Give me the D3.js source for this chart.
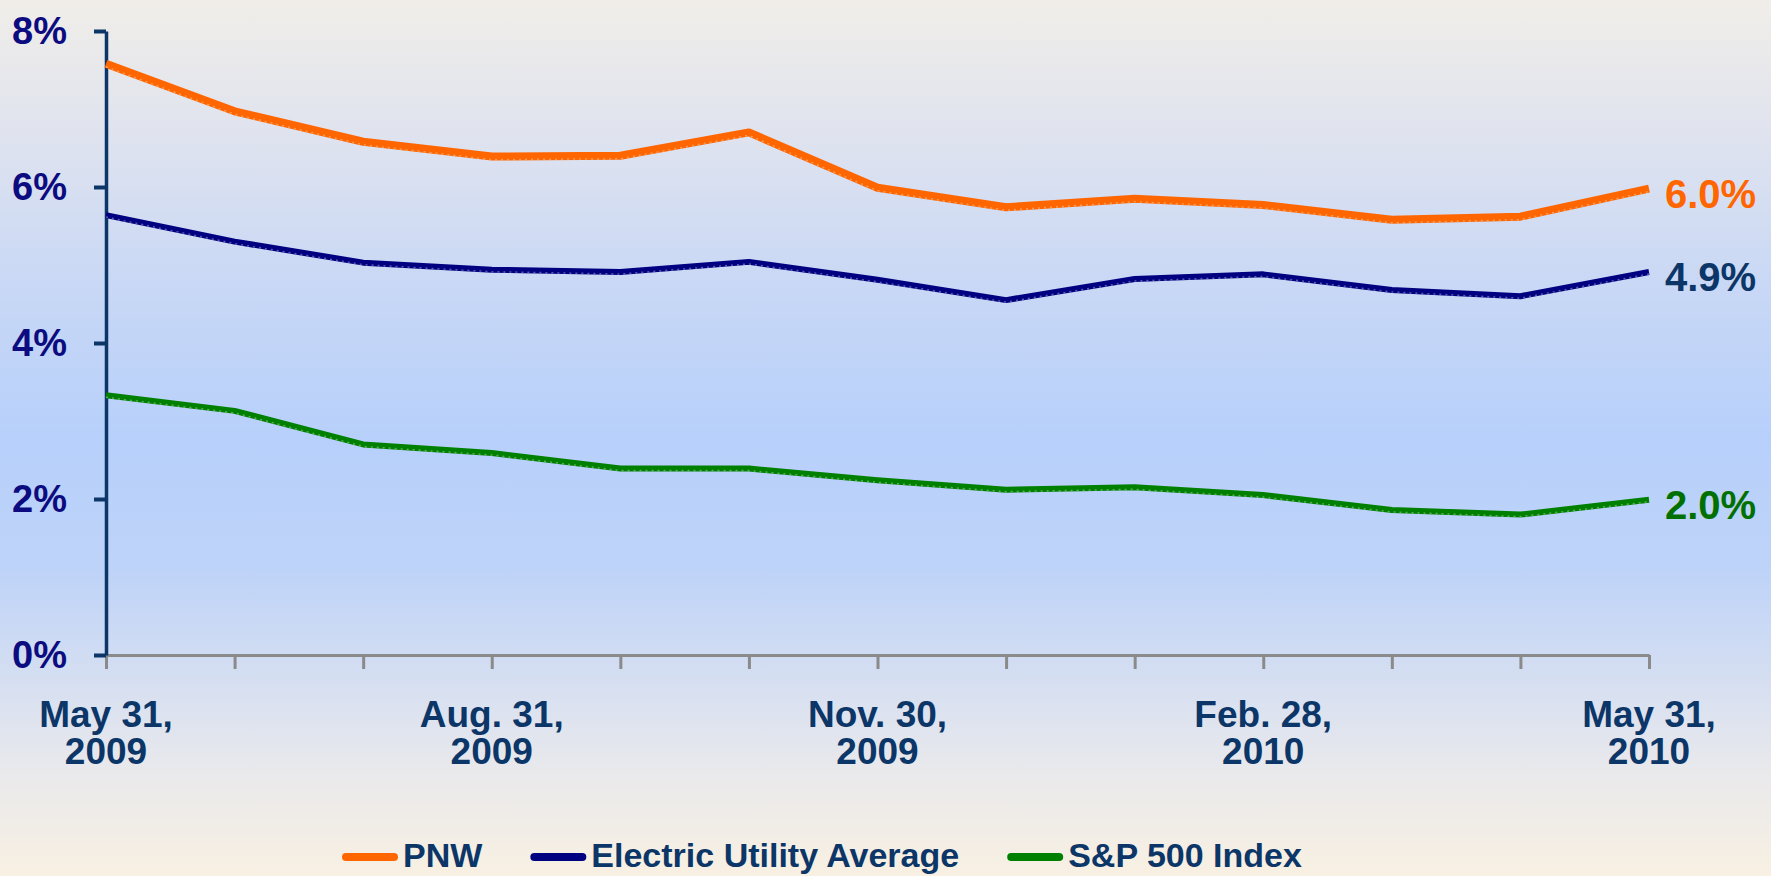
<!DOCTYPE html>
<html>
<head>
<meta charset="utf-8">
<script src="https://cdnjs.cloudflare.com/ajax/libs/d3/7.8.5/d3.min.js"></script>
<style>
    html, body { margin: 0; padding: 0; }
    body { width: 1771px; height: 876px; overflow: hidden; }
    svg text { font-family: "Liberation Sans", Arial, sans-serif; font-weight: bold; }
</style>
</head>
<body>
<div id="chart"></div>
<script>
// month-end dates, May 2009 .. May 2010
const months = ["2009-05", "2009-06", "2009-07", "2009-08", "2009-09", "2009-10", "2009-11",
                "2009-12", "2010-01", "2010-02", "2010-03", "2010-04", "2010-05"];

// dividend yield (%)
const pnw  = [7.58, 6.97, 6.58, 6.39, 6.40, 6.70, 5.99, 5.74, 5.85, 5.77, 5.58, 5.62, 5.98];
const elec = [5.64, 5.30, 5.03, 4.94, 4.91, 5.04, 4.81, 4.55, 4.82, 4.88, 4.68, 4.60, 4.91];
const sp500 = [3.33, 3.13, 2.70, 2.59, 2.39, 2.39, 2.24, 2.12, 2.15, 2.05, 1.86, 1.80, 1.99];

const seriesNames = ["PNW", "Electric Utility Average", "S&P 500 Index"];

const yTicks = [0, 2, 4, 6, 8];
const labeledMonths = ["2009-05", "2009-08", "2009-11", "2010-02", "2010-05"];
const tickLabels = [["May 31,", "2009"], ["Aug. 31,", "2009"], ["Nov. 30,", "2009"],
                    ["Feb. 28,", "2010"], ["May 31,", "2010"]];

const width = 1771, height = 876;

const svg = d3.select("#chart")
    .append("svg")
    .attr("width", width)
    .attr("height", height);

// background gradient
const grad = svg.append("defs").append("linearGradient")
    .attr("id", "bg")
    .attr("x1", 0).attr("y1", 0).attr("x2", 0).attr("y2", 1);
[[0, "#f1eee9"], [0.14, "#e1e4ee"], [0.32, "#c9d8f5"], [0.5, "#b7d0fb"],
 [0.65, "#bed3f8"], [0.78, "#d6dff1"], [0.88, "#e9e9ec"], [1, "#f8f0e2"]]
    .forEach(s => grad.append("stop").attr("offset", s[0]).attr("stop-color", s[1]));

svg.append("rect")
    .attr("width", width)
    .attr("height", height)
    .attr("fill", "url(#bg)");

const xScale = d3.scalePoint()
    .domain(months)
    .range([106, 1649]);

const yScale = d3.scaleLinear()
    .domain([0, 8])
    .range([655, 31]);

// X axis (gray)
const xAxis = svg.append("g")
    .attr("transform", `translate(0,${yScale(0)})`)
    .call(d3.axisBottom(xScale).tickSize(14).tickSizeOuter(0).tickFormat(""));
xAxis.select(".domain").attr("stroke", "#8a8a8a").attr("stroke-width", 3);
xAxis.selectAll(".tick line").attr("stroke", "#8a8a8a").attr("stroke-width", 3);

// two-line x labels
labeledMonths.forEach((m, i) => {
    const t = svg.append("text")
        .attr("x", xScale(m))
        .attr("y", 727)
        .attr("text-anchor", "middle")
        .attr("fill", "#0b3667")
        .style("font-size", "37px");
    t.append("tspan").attr("x", xScale(m)).text(tickLabels[i][0]);
    t.append("tspan").attr("x", xScale(m)).attr("dy", 37).text(tickLabels[i][1]);
});

// Y axis (navy)
const yAxis = svg.append("g")
    .attr("transform", `translate(${xScale(months[0])},0)`)
    .call(d3.axisLeft(yScale).tickValues(yTicks).tickSize(12).tickSizeOuter(0)
        .tickPadding(27).tickFormat(d => d + "%"));
yAxis.select(".domain").attr("stroke", "#0b3667").attr("stroke-width", 3.5);
yAxis.selectAll(".tick line").attr("stroke", "#0b3667").attr("stroke-width", 4);
yAxis.selectAll(".tick text")
    .attr("fill", "#0c0c80")
    .style("font-size", "38px")
    .style("font-family", "'Liberation Sans', Arial, sans-serif")
    .style("font-weight", "bold");

// Lines
const series = [
    { name: seriesNames[0], values: pnw, color: "#ff6600", width: 8, label: "#ff6600" },
    { name: seriesNames[1], values: elec, color: "#000080", width: 6, label: "#0b3667" },
    { name: seriesNames[2], values: sp500, color: "#008000", width: 6, label: "#007000" }
];

const line = d3.line()
    .x((d, i) => xScale(months[i]))
    .y(d => yScale(d));

series.forEach(s => {
    svg.append("path")
        .datum(s.values)
        .attr("fill", "none")
        .attr("stroke", s.color)
        .attr("stroke-width", s.width)
        .attr("stroke-linejoin", "round")
        .attr("d", line);

    // light dotted edge seen in the original rendering
    svg.append("path")
        .datum(s.values)
        .attr("fill", "none")
        .attr("stroke", "#ffffff")
        .attr("stroke-opacity", 0.35)
        .attr("stroke-width", 1.5)
        .attr("stroke-dasharray", "2,4")
        .attr("transform", `translate(0,${s.width / 2 - 1})`)
        .attr("d", line);

    // end value label
    const last = s.values[s.values.length - 1];
    svg.append("text")
        .attr("x", xScale(months[months.length - 1]) + 16)
        .attr("y", yScale(last) + 5)
        .attr("dominant-baseline", "central")
        .attr("fill", s.label)
        .style("font-size", "40px")
        .text(d3.format(".1f")(last) + "%");
});

// Legend
const legend = svg.append("g").attr("transform", "translate(342,857)");
let lx = 0;
series.forEach(s => {
    legend.append("line")
        .attr("x1", lx + 4).attr("x2", lx + 52)
        .attr("y1", 0).attr("y2", 0)
        .attr("stroke", s.color)
        .attr("stroke-width", 8)
        .attr("stroke-linecap", "round");
    const t = legend.append("text")
        .attr("x", lx + 61)
        .attr("y", 10)
        .attr("fill", "#0b3667")
        .style("font-size", "34px")
        .text(s.name);
    lx += 61 + t.node().getComputedTextLength() + 48;
});
</script>
</body>
</html>
